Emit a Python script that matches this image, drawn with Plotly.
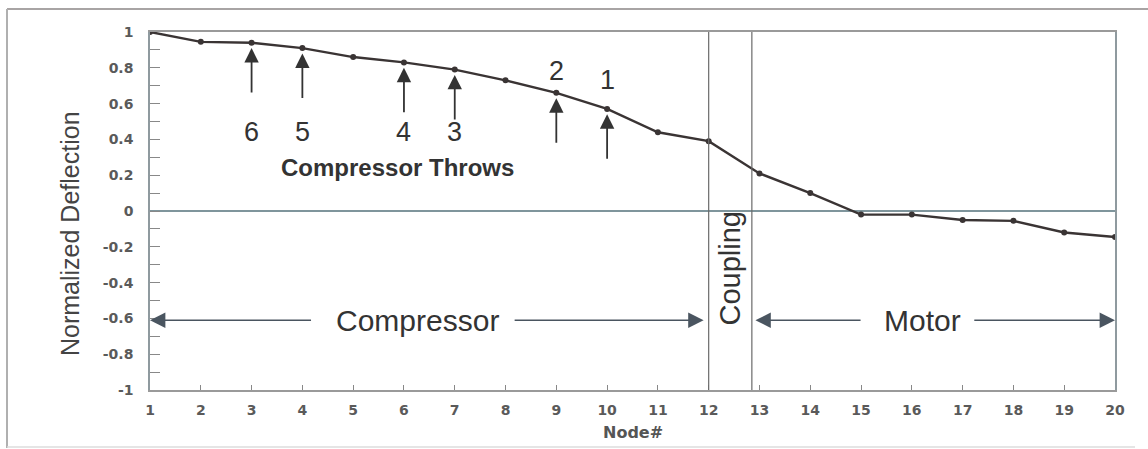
import plotly.graph_objects as go

# ---- data ----
nodes = list(range(1, 21))
deflection = [1.0, 0.945, 0.94, 0.91, 0.86, 0.83, 0.79, 0.73, 0.66, 0.57,
              0.44, 0.39, 0.21, 0.10, -0.02, -0.02, -0.05, -0.055, -0.12, -0.145]
throw_nodes = [3, 4, 6, 7, 9, 10]
throw_labels = ["6", "5", "4", "3", "2", "1"]
throw_label_y = [0.44, 0.44, 0.44, 0.44, 0.78, 0.73]
coupling_bounds = [12, 12.85]
y_ticks = [1, 0.8, 0.6, 0.4, 0.2, 0, -0.2, -0.4, -0.6, -0.8, -1]
y_ticktext = ["1", "0.8", "0.6", "0.4", "0.2", "0", "-0.2", "-0.4", "-0.6", "-0.8", "-1"]

W, H = 1148, 449
L, R, T, B = 150, 33, 32, 59
PW, PH = W - L - R, H - T - B

def px_x(p):
    return (p - L) / PW

def px_y(p):
    return (H - B - p) / PH

TXT = "#333333"
FONT = "Liberation Sans, Arial, sans-serif"
TICKFONT = dict(family="DejaVu Sans, sans-serif", size=14, color="#5a5a5a", weight="bold")

fig = go.Figure()
fig.add_trace(go.Scatter(
    x=nodes, y=deflection, mode="lines+markers",
    line=dict(color="#3a3434", width=2.4),
    marker=dict(color="#3a3434", size=6),
    showlegend=False, hoverinfo="x+y",
))

annotations = []
# throw arrows and numbers
for n, lab, ly in zip(throw_nodes, throw_labels, throw_label_y):
    tip = deflection[n - 1] - 0.03
    annotations.append(dict(x=n, y=tip, xref="x", yref="y", text="", showarrow=True,
                            ax=0, ay=46, arrowhead=2, arrowsize=1.6, arrowwidth=1.8,
                            arrowcolor="#333333"))
    annotations.append(dict(x=n, y=ly, xref="x", yref="y", text=lab, showarrow=False,
                            font=dict(family=FONT, size=27, color=TXT)))

annotations.append(dict(x=5.88, y=0.245, xref="x", yref="y", text="Compressor Throws",
                        showarrow=False,
                        font=dict(family=FONT, size=24, color=TXT, weight="bold")))

# span arrows at y = -0.61
span_y = -0.61
spans = [
    ("Compressor", 6.27, [(1.0, 4.2), (11.9, 8.15)]),
    ("Motor", 16.2, [(12.92, 15.02), (20.0, 17.2)]),
]
for label, cx, arrows in spans:
    annotations.append(dict(x=cx, y=span_y, xref="x", yref="y", text=label,
                            showarrow=False,
                            font=dict(family=FONT, size=30, color=TXT)))
    for tipx, tailx in arrows:
        annotations.append(dict(x=tipx, y=span_y, ax=tailx, ay=span_y,
                                xref="x", yref="y", axref="x", ayref="y",
                                text="", showarrow=True, arrowhead=2,
                                arrowsize=2.2, arrowwidth=1.4, arrowcolor="#4a5560"))

annotations.append(dict(x=sum(coupling_bounds) / 2, y=-0.32, xref="x", yref="y",
                        text="Coupling", textangle=-90, showarrow=False,
                        font=dict(family=FONT, size=29, color=TXT)))

# y axis title
annotations.append(dict(x=px_x(70), y=px_y(234), xref="paper", yref="paper",
                        xanchor="center", yanchor="middle",
                        text="Normalized Deflection", textangle=-90, showarrow=False,
                        font=dict(family=FONT, size=25, color="#444444")))
# x axis title
annotations.append(dict(x=0.5, y=px_y(432), xref="paper", yref="paper",
                        xanchor="center", yanchor="middle",
                        text="Node#", showarrow=False,
                        font=dict(family="DejaVu Sans, sans-serif", size=16,
                                  color="#555555", weight="bold")))

shapes = []
for cb in coupling_bounds:
    shapes.append(dict(type="line", xref="x", yref="y", x0=cb, x1=cb, y0=-1, y1=1,
                       line=dict(color="#6a6a6a", width=1.2)))
# outer frame
shapes.append(dict(type="line", xref="paper", yref="paper",
                   x0=px_x(7), x1=px_x(W + 5), y0=px_y(9), y1=px_y(9),
                   line=dict(color="#a8a4a4", width=2)))
shapes.append(dict(type="line", xref="paper", yref="paper",
                   x0=px_x(7), x1=px_x(7), y0=px_y(9), y1=px_y(448),
                   line=dict(color="#b0b0b0", width=2)))
shapes.append(dict(type="line", xref="paper", yref="paper",
                   x0=px_x(7), x1=px_x(1135), y0=px_y(447), y1=px_y(447),
                   line=dict(color="#dddddd", width=1.5)))

fig.update_layout(
    width=W, height=H,
    margin=dict(l=L, r=R, t=T, b=B),
    paper_bgcolor="white", plot_bgcolor="white",
    annotations=annotations, shapes=shapes,
    xaxis=dict(range=[1, 20], tickvals=nodes, ticks="inside", ticklen=5,
               tickcolor="#888888", showgrid=False, zeroline=False,
               showline=True, linecolor="#9a9a9a", linewidth=1.5, mirror=True,
               tickfont=TICKFONT, ticklabelstandoff=6, fixedrange=True),
    yaxis=dict(range=[-1, 1], tickvals=y_ticks, ticktext=y_ticktext,
               ticks="inside", ticklen=10, tickcolor="#888888",
               minor=dict(dtick=0.1, ticks="inside", ticklen=10, tickcolor="#888888"),
               showgrid=False, zeroline=True, zerolinecolor="#7f959c", zerolinewidth=1.5,
               showline=True, linecolor="#8f9a9f", linewidth=1.5, mirror=True,
               tickfont=TICKFONT, ticklabelstandoff=12, fixedrange=True),
)

fig.write_html("out.html")
